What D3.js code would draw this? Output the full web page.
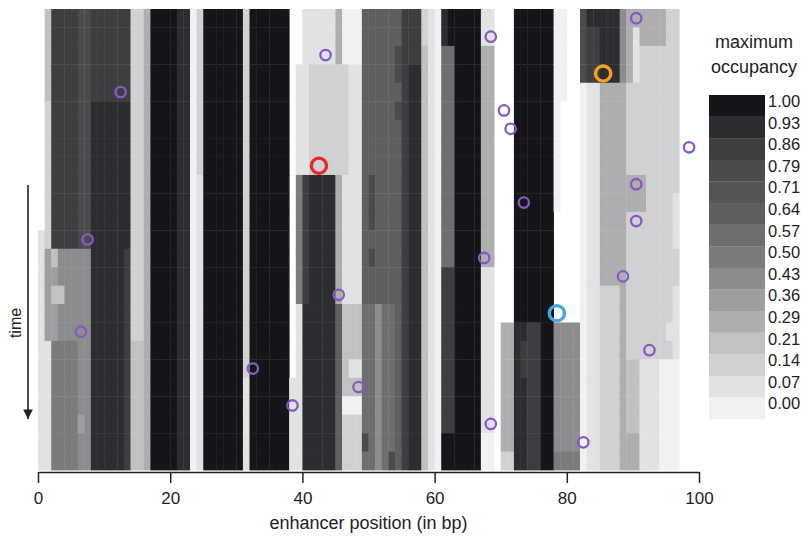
<!DOCTYPE html>
<html>
<head>
<meta charset="utf-8">
<script src="https://cdn.jsdelivr.net/npm/d3@7"></script>
<style>
  body { margin: 0; background: #fff; }
  svg { display: block; }
  text { font-family: "Liberation Sans", Arial, sans-serif; fill: #222; }
</style>
</head>
<body>
<svg id="chart" width="801" height="536"></svg>
<script>
// Occupancy levels shown on the colour bar (index 0 = empty, 14 = full)
const levelLabels = ["0.00","0.07","0.14","0.21","0.29","0.36","0.43","0.50",
                     "0.57","0.64","0.71","0.79","0.86","0.93","1.00"];
const xTicks = [0, 20, 40, 60, 80, 100];
const timeSteps = 25;

// Maximum occupancy per enhancer position (one string per bp, top = first time step).
// Characters: "." = never bound, 0-9 and a-e = level index 0..14.
const occupancy = [
  "..... ..... ..111 11111 11111", // 0
  "33333 22222 22255 55511 11111",
  "ccccc ccccc ccc35 35577 77777",
  "ccccc ccccc ccc66 36677 77777",
  "ccccc ccccc ccc66 66677 77777",
  "ccccc ccccc ccc66 66677 77777", // 5
  "bbbbb bbbbb bbb66 66666 66566",
  "bbbbb bbbbb bbb66 66666 66666",
  "ccccc ddddd ddddd ddddd ddddd",
  "ccccc ddddd ddddd ddddd ddddd",
  "ccccc ddddd ddddd ddddd ddddd", // 10
  "ccccc ddddd ddddd ddddd ddddd",
  "ccccc ddddd ddddd ddddd ddddd",
  "ccccc ddddd dddcc ccccc ccccc",
  "22222 22222 22222 22233 33333",
  "22222 22222 22222 22233 33333", // 15
  "44444 44444 44444 44444 44444",
  "eeeee eeeee eeeee eeeee eeeee",
  "eeeee eeeee eeeee eeeee eeeee",
  "eeeee eeeee eeeee eeeee eeeee",
  "eeeee eeeee eeeee eeeee eeeee", // 20
  "ddddd ddddd ddddd ddddd ddddd",
  "ddddd ddddd ddddd ddddd ddddd",
  "00000 00000 00000 00000 00000",
  "22222 22221 11111 11111 11111",
  "eeeee eeeee eeeee eeeee eeeee", // 25
  "eeeee eeeee eeeee eeeee eeeee",
  "eeeee eeeee eeeee eeeee eeeee",
  "eeeee eeeee eeeee eeeee eeeee",
  "eeeee eeeee eeeee eeeee eeeee",
  "eeeee eeeee eeeee eeeee eeeee", // 30
  "22222 22222 22222 22222 11111",
  "eeeee eeeee eeeee eeeee eeeee",
  "eeeee eeeee eeeee eeeee eeeee",
  "eeeee eeeee eeeee eeeee eeeee",
  "eeeee eeeee eeeee eeeee eeeee", // 35
  "eeeee eeeee eeeee eeeee eeeee",
  "eeeee eeeee eeeee eeeee eeeee",
  "..... ..... ..... ..... 11111",
  "...11 11117 77777 71111 11111",
  "11111 1111c ccccc cdddd ddddd", // 40
  "11122 2222d ddddd ddddd ddddd",
  "11122 2222d ddddd ddddd ddddd",
  "11122 2222d ddddd ddddd ddddd",
  "11122 2222d ddddd ddddd ddddd",
  "44422 22224 44444 49999 99999", // 45
  "00022 22221 11111 13333 30222",
  "00011 11111 11111 13331 30222",
  "00011 11111 11111 13331 30222",
  "99999 99999 99999 98888 888b8",
  "99999 9999b bb9b9 98888 88888", // 50
  "99999 99999 99999 96666 66666",
  "99999 99999 99999 98888 88888",
  "99999 99999 99999 98888 8888b",
  "99bb9 b9999 99999 99999 99999",
  "ccccc ccccc ccccc ccccc ccccc", // 55
  "cccdd ddddd ddddd ddddd ddddd",
  "cccdd ddddd ddddd ddddd ddddd",
  "22333 33333 33333 33333 33333",
  "11111 11111 11111 11111 11111",
  "00000 00000 00000 00000 00000", // 60
  "dd888 88888 8888c ccccc cccee",
  "ee888 88888 8888c ccccc cccee",
  "eeeee eeeee eeeee eeeee eeeee",
  "eeeee eeeee eeeee eeeee eeeee",
  "eeeee eeeee eeeee eeeee eeeee", // 65
  "eeeee eeeee eeeee eeeee eeeee",
  "11444 44444 44441 11111 11100",
  "11444 44444 44441 11111 11100",
  "..... ..... ..... ..... .....",
  "..... ..... ..... ..444 44442", // 70
  "..... ..... ..... ..444 44442",
  "eeeee eeeee eeeee eeddd ddddd",
  "eeeee eeeee eeeee eedcc ddddd",
  "eeeee eeeee eeeee eeccc ccccc",
  "eeeee eeeee eeeee eeccc ccccc", // 75
  "eeeee eeeee eeeee eeeee eeeee",
  "eeeee eeeee eeeee eeeee eeeee",
  "00000 00000 0.... ..666 66667",
  "00000 ..... ..... ..666 66667",
  "..... ..... ..... ..666 66667", // 80
  "..... ..... ..... ..666 66667",
  "bbbb0 00000 00000 00000 00000",
  "dccc1 11111 11111 11111 11111",
  "dccc1 11111 11111 11111 11111",
  "dddd4 44444 44444 22222 22222", // 85
  "dddd4 44444 44444 22222 22222",
  "dddd4 44444 44444 22222 22222",
  "66664 44444 44444 44444 44444",
  "44442 22224 42222 22223 33344",
  "41112 22224 42222 22223 33344", // 90
  "44222 22224 42222 22221 11111",
  "44222 22222 22222 22221 11111",
  "44222 22222 22222 22221 11111",
  "44222 22222 22222 22220 00000",
  "22222 22222 22222 22120 00000", // 95
  "22222 22222 11122 11110 00000"
];

// One binding event per time step: position (bp) of the new site
const eventPos = [90, 68, 43, 85, 12, 70, 71, 98, 42, 90, 73, 90,
                  7, 67, 88, 45, 78, 6, 92, 32, 48, 38, 68, 82];
// Time steps whose events are singled out
const highlightStep = [3, 8, 16];
const highlightKind = ["orange", "red", "blue"];

// ---------------------------------------------------------------
const grayRamp = ["#f1f1f2","#e1e2e3","#d0d1d3","#c0c1c3","#adaeb0","#9c9ea0",
                  "#8b8c8e","#7a7b7d","#6d6e70","#5e5f61","#535557","#4a4b4d",
                  "#3d3e40","#2b2d30","#151619"];
const kindColor = { orange: "#f5a11c", red: "#e8282c", blue: "#4ba5de" };
const eventColor = "#8b58bf";

const svg = d3.select("#chart");
const x = d3.scaleLinear().domain([0, 100]).range([38, 699]);
const y = d3.scaleLinear().domain([0, timeSteps]).range([9, 470]);
const codes = "0123456789abcde";
const color = d3.scaleOrdinal().domain(d3.range(15)).range(grayRamp);

// Heat map cells
const cells = [];
occupancy.forEach((col, pos) => {
  const s = col.replace(/ /g, "");
  for (let t = 0; t < timeSteps; t++) {
    const ch = s[t];
    if (ch && ch !== ".") cells.push({ pos, t, level: codes.indexOf(ch) });
  }
});
svg.append("g")
  .selectAll("rect")
  .data(cells)
  .join("rect")
  .attr("x", d => x(d.pos))
  .attr("y", d => y(d.t))
  .attr("width", d => x(d.pos + 1) - x(d.pos) + 0.4)
  .attr("height", d => y(d.t + 1) - y(d.t) + 0.4)
  .attr("fill", d => color(d.level));

// Binding events
const events = eventPos.map((p, t) => ({ pos: p, t, kind: highlightKind[highlightStep.indexOf(t)] }));
svg.append("g")
  .selectAll("circle")
  .data(events)
  .join("circle")
  .attr("cx", d => x(d.pos + 0.5))
  .attr("cy", d => y(d.t + 0.5))
  .attr("r", d => d.kind ? 7.6 : 5.2)
  .attr("fill", "none")
  .attr("stroke", d => d.kind ? kindColor[d.kind] : eventColor)
  .attr("stroke-width", d => d.kind ? 3.4 : 2.3);

// x axis
const xAxis = svg.append("g")
  .attr("transform", "translate(0,472)")
  .call(d3.axisBottom(x).tickValues(xTicks).tickSize(11).tickSizeOuter(0).tickPadding(9));
xAxis.select(".domain").attr("stroke", "#222").attr("stroke-width", 1.5);
xAxis.selectAll(".tick line").attr("stroke", "#222").attr("stroke-width", 1.5);
xAxis.selectAll(".tick text").attr("font-size", 17).attr("font-family", "Liberation Sans, Arial, sans-serif").attr("fill", "#222");

svg.append("text")
  .attr("x", x(50)).attr("y", 529)
  .attr("text-anchor", "middle")
  .attr("font-size", 18)
  .text("enhancer position (in bp)");

// time arrow
svg.append("defs").append("marker")
  .attr("id", "arrow").attr("viewBox", "0 0 10 10")
  .attr("refX", 10).attr("refY", 5)
  .attr("markerWidth", 6).attr("markerHeight", 6)
  .attr("markerUnits", "strokeWidth")
  .attr("orient", "auto")
  .append("path").attr("d", "M0,0L10,5L0,10z").attr("fill", "#222");
svg.append("line")
  .attr("x1", 28).attr("y1", 185).attr("x2", 28).attr("y2", 419)
  .attr("stroke", "#222").attr("stroke-width", 1.6)
  .attr("marker-end", "url(#arrow)");
svg.append("text")
  .attr("transform", "translate(21,323) rotate(-90)")
  .attr("text-anchor", "middle")
  .attr("font-size", 16)
  .text("time");

// colour bar
const barLevels = d3.range(15).reverse();
const bar = d3.scaleBand().domain(barLevels).range([95, 419]);
const cb = svg.append("g");
cb.selectAll("rect")
  .data(barLevels)
  .join("rect")
  .attr("x", 709).attr("width", 56)
  .attr("y", d => bar(d)).attr("height", bar.bandwidth() + 0.3)
  .attr("fill", d => color(d));
cb.selectAll("text")
  .data(barLevels)
  .join("text")
  .attr("x", 768).attr("y", d => bar(d) + 12)
  .attr("font-size", 16.5)
  .text(d => levelLabels[d]);

const title = svg.append("text")
  .attr("text-anchor", "middle")
  .attr("font-family", "Open Sans, sans-serif")
  .attr("font-size", 18);
title.append("tspan").attr("x", 754).attr("y", 48).text("maximum");
title.append("tspan").attr("x", 754).attr("y", 73).text("occupancy");
</script>
</body>
</html>
